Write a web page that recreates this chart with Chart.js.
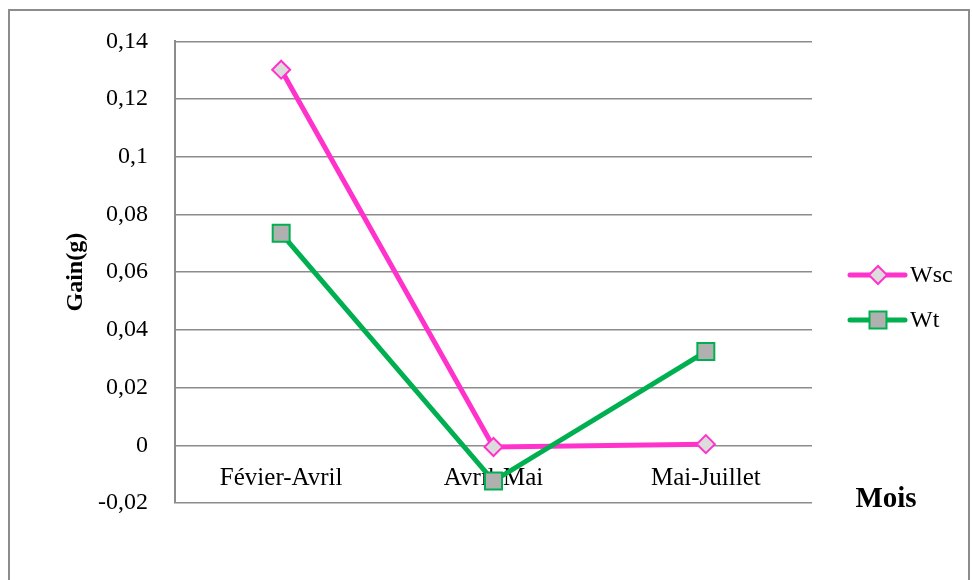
<!DOCTYPE html>
<html>
<head>
<meta charset="utf-8">
<script src="https://cdn.jsdelivr.net/npm/chart.js@4.4.1/dist/chart.umd.min.js"></script>
<style>
    html, body { margin: 0; padding: 0; background: #fff; overflow: hidden; }
    #frame { position: absolute; left: 8px; top: 9px; width: 962px; height: 600px; border: 2px solid #8c8c8c; box-sizing: border-box; }
    #wrap { position: absolute; left: 0; top: 0; width: 972px; height: 580px; }
</style>
</head>
<body>
<div id="frame"></div>
<div id="wrap"><canvas id="chartGain"></canvas></div>
<script>
var categories = ["Févier-Avril", "Avril-Mai", "Mai-Juillet"];
var wscValues = [0.1302, -0.0006, 0.0004];
var wtValues = [0.0735, -0.0124, 0.0325];
var seriesNames = ["Wsc", "Wt"];

var serif = "'Liberation Serif', 'Times New Roman', serif";
var pink = "#ff33cc";
var green = "#00b050";

// legend entries: line + marker, drawn to the right of the plot
function drawMarker(ctx, style, x, y, radius, fill, stroke) {
    ctx.save();
    ctx.beginPath();
    if (style === "rectRot") {
        ctx.moveTo(x - radius, y);
        ctx.lineTo(x, y - radius);
        ctx.lineTo(x + radius, y);
        ctx.lineTo(x, y + radius);
    } else {
        var s = radius * Math.SQRT1_2;
        ctx.rect(x - s, y - s, s * 2, s * 2);
    }
    ctx.closePath();
    ctx.fillStyle = fill;
    ctx.fill();
    ctx.lineWidth = 2;
    ctx.strokeStyle = stroke;
    ctx.stroke();
    ctx.restore();
}

var sideLegend = {
    id: "sideLegend",
    afterDraw: function (chart) {
        var ctx = chart.ctx;
        var area = chart.chartArea;
        var x0 = area.right + 38;
        var rows = [275, 320];
        chart.data.datasets.forEach(function (ds, i) {
            var y = rows[i];
            ctx.save();
            ctx.beginPath();
            ctx.moveTo(x0, y);
            ctx.lineTo(x0 + 55, y);
            ctx.lineWidth = 5;
            ctx.lineCap = "round";
            ctx.strokeStyle = ds.borderColor;
            ctx.stroke();
            ctx.restore();
            drawMarker(ctx, ds.pointStyle, x0 + 28, y, ds.pointRadius, ds.pointBackgroundColor, ds.pointBorderColor);
            ctx.save();
            ctx.fillStyle = "#000";
            ctx.font = "24px " + serif;
            ctx.textBaseline = "middle";
            ctx.fillText(ds.label, x0 + 60, y + 1);
            ctx.restore();
        });

        // category axis title, beside the bottom edge of the plot
        ctx.save();
        ctx.fillStyle = "#000";
        ctx.font = "bold 29px " + serif;
        ctx.textAlign = "center";
        ctx.textBaseline = "alphabetic";
        ctx.fillText("Mois", area.right + 74, 507);
        ctx.restore();
    }
};

function formatTick(value) {
    return Number(value.toFixed(2)).toString().replace(".", ",");
}

var ctx = document.getElementById("chartGain");
var myChart = new Chart(ctx, {
    type: "line",
    data: {
        labels: categories,
        datasets: [{
            label: seriesNames[0],
            data: wscValues,
            borderColor: pink,
            borderWidth: 5,
            pointStyle: "rectRot",
            pointRadius: 9,
            pointBackgroundColor: "#dcdcdc",
            pointBorderColor: pink,
            pointBorderWidth: 2,
            tension: 0,
            order: 1
        }, {
            label: seriesNames[1],
            data: wtValues,
            borderColor: green,
            borderWidth: 5,
            pointStyle: "rect",
            pointRadius: 12,
            pointBackgroundColor: "#b0b0b0",
            pointBorderColor: green,
            pointBorderWidth: 2,
            tension: 0,
            order: 0
        }]
    },
    options: {
        responsive: true,
        maintainAspectRatio: false,
        animation: false,
        layout: {
            padding: { left: 0, top: 40, right: 160, bottom: 77 }
        },
        plugins: {
            legend: { display: false },
            tooltip: { enabled: false }
        },
        scales: {
            x: {
                position: { y: 0 },
                offset: true,
                grid: { display: false },
                border: { display: false },
                ticks: {
                    color: "#000",
                    padding: 10,
                    maxRotation: 0,
                    font: { family: serif, size: 25 }
                }
            },
            y: {
                min: -0.02,
                max: 0.14,
                grid: { color: "#8c8c8c", lineWidth: 1.5, drawTicks: false },
                border: { display: true, color: "#8c8c8c", width: 2 },
                ticks: {
                    stepSize: 0.02,
                    color: "#000",
                    padding: 27,
                    font: { family: serif, size: 24 },
                    callback: formatTick
                },
                title: {
                    display: true,
                    text: "Gain(g)",
                    color: "#000",
                    padding: { top: 61, bottom: 0 },
                    font: { family: serif, size: 24, weight: "bold" }
                },
                afterFit: function (scale) {
                    scale.width = 175;
                }
            }
        }
    },
    plugins: [sideLegend]
});
</script>
</body>
</html>
